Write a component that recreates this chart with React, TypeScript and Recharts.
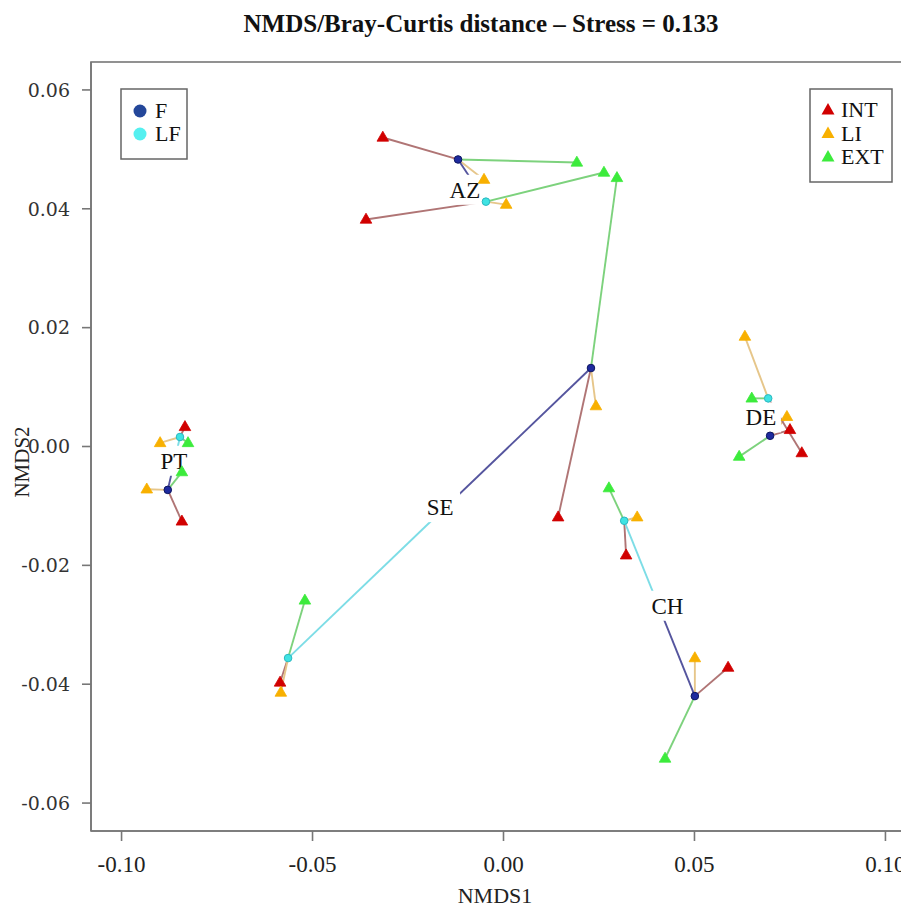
import React from 'react';
import { ScatterChart, Scatter, XAxis, YAxis } from 'recharts';

// ---- data ----
const sites = ['PT', 'AZ', 'SE', 'CH', 'DE'];

// centroids
const fX = [-0.0879, -0.0119, 0.0229, 0.0501, 0.0698];
const fY = [-0.0073, 0.0483, 0.0132, -0.042, 0.0018];
const lfX = [-0.0847, -0.0046, -0.0564, 0.0316, 0.0693];
const lfY = [0.0016, 0.0412, -0.0356, -0.0125, 0.0081];

// samples attached to F centroid
const intFX = [-0.0842, -0.0316, 0.0143, 0.0588, 0.075];
const intFY = [-0.0126, 0.052, -0.0119, -0.0372, 0.0028];
const liFX = [-0.0934, -0.0051, 0.0242, 0.0501, 0.0742];
const liFY = [-0.0072, 0.0449, 0.0068, -0.0356, 0.005];
const extFX = [-0.0842, 0.0192, 0.0297, 0.0423, 0.0617];
const extFY = [-0.0043, 0.0478, 0.0452, -0.0525, -0.0017];

// samples attached to LF centroid
const intLFX = [-0.0834, -0.036, -0.0585, 0.0321, 0.0781];
const intLFY = [0.0033, 0.0382, -0.0397, -0.0183, -0.0011];
const liLFX = [-0.0899, 0.0007, -0.0583, 0.035, 0.0632];
const liLFY = [0.0006, 0.0407, -0.0414, -0.0119, 0.0185];
const extLFX = [-0.0826, 0.0263, -0.052, 0.0276, 0.065];
const extLFY = [0.0006, 0.0461, -0.0259, -0.007, 0.0081];

// site label positions
const labelX = [-0.0863, -0.0101, -0.0166, 0.0429, 0.0674];
const labelY = [-0.0024, 0.0432, -0.0102, -0.0268, 0.0049];

const xTicks = [-0.1, -0.05, 0, 0.05, 0.1];
const yTicks = [-0.06, -0.04, -0.02, 0, 0.02, 0.04, 0.06];

const groupNames = ['F', 'LF'];
const typeNames = ['INT', 'LI', 'EXT'];

// ---- styles ----
const C_INT = '#D10000';
const C_LI = '#F8B000';
const C_EXT = '#3CEB3C';
const C_F = '#1E2A9E';
const C_LF = '#3FE3E3';
const L_INT = '#B07575';
const L_LI = '#E6C68A';
const L_EXT = '#7DD27D';
const L_F = '#55559E';
const L_LF = '#7DDDE6';

const NoShape = () => <g />;

const triangle = (color: string) => (props: any) => {
  const { cx, cy } = props;
  if (cx == null || cy == null) return <g />;
  const pts = `${cx},${cy - 6.3} ${cx - 5.8},${cy + 3.7} ${cx + 5.8},${cy + 3.7}`;
  return <polygon points={pts} fill={color} stroke={color} strokeWidth={0.8} />;
};

const centroid = (color: string, edge: string) => (props: any) => {
  const { cx, cy } = props;
  if (cx == null || cy == null) return <g />;
  return <circle cx={cx} cy={cy} r={3.8} fill={color} stroke={edge} strokeWidth={1} />;
};

const siteLabel = (props: any) => {
  const { cx, cy, payload } = props;
  if (cx == null || cy == null) return <g />;
  const w = 40;
  const h = 30;
  return (
    <g>
      <rect x={cx - w / 2} y={cy - h / 2} width={w} height={h} fill="#ffffff" />
      <text
        x={cx}
        y={cy + 8}
        textAnchor="middle"
        fontFamily="'Liberation Serif', 'Times New Roman', serif"
        fontSize={23}
        fill="#111"
      >
        {payload.name}
      </text>
    </g>
  );
};

type P = { x: number; y: number };

const segments: { a: P; b: P; color: string }[] = [];
sites.forEach((_, i) => {
  const F = { x: fX[i], y: fY[i] };
  const LF = { x: lfX[i], y: lfY[i] };
  segments.push({ a: F, b: { x: intFX[i], y: intFY[i] }, color: L_INT });
  segments.push({ a: F, b: { x: liFX[i], y: liFY[i] }, color: L_LI });
  segments.push({ a: F, b: { x: extFX[i], y: extFY[i] }, color: L_EXT });
  segments.push({ a: LF, b: { x: intLFX[i], y: intLFY[i] }, color: L_INT });
  segments.push({ a: LF, b: { x: liLFX[i], y: liLFY[i] }, color: L_LI });
  segments.push({ a: LF, b: { x: extLFX[i], y: extLFY[i] }, color: L_EXT });
  const mid = { x: (F.x + LF.x) / 2, y: (F.y + LF.y) / 2 };
  segments.push({ a: F, b: mid, color: L_F });
  segments.push({ a: mid, b: LF, color: L_LF });
});

const zipPts = (xs: number[], ys: number[]) => xs.map((x, i) => ({ x, y: ys[i] }));

const intPts = [...zipPts(intFX, intFY), ...zipPts(intLFX, intLFY)];
const liPts = [...zipPts(liFX, liFY), ...zipPts(liLFX, liLFY)];
const extPts = [...zipPts(extFX, extFY), ...zipPts(extLFX, extLFY)];
const fPts = zipPts(fX, fY);
const lfPts = zipPts(lfX, lfY);
const labelPts = sites.map((name, i) => ({ x: labelX[i], y: labelY[i], name }));

const serif = "'Liberation Serif', 'Times New Roman', serif";

export default function App() {
  return (
    <div
      style={{
        position: 'relative',
        width: 909,
        height: 911,
        margin: -8,
        overflow: 'hidden',
        background: '#ffffff',
      }}
    >
      <ScatterChart width={930} height={911} margin={{ top: 62, right: 14, bottom: 0, left: 21 }}>
        <XAxis
          type="number"
          dataKey="x"
          domain={[-0.108, 0.108]}
          ticks={xTicks}
          allowDataOverflow
          tickFormatter={(v: number) => v.toFixed(2)}
          height={80}
          tickSize={10}
          tickMargin={15}
          axisLine={{ stroke: '#777', strokeWidth: 1.6 }}
          tickLine={{ stroke: '#777', strokeWidth: 1.6 }}
          tick={{ fontFamily: serif, fontSize: 23, fill: '#222' }}
        />
        <YAxis
          type="number"
          dataKey="y"
          domain={[-0.0647, 0.0647]}
          ticks={yTicks}
          allowDataOverflow
          tickFormatter={(v: number) => v.toFixed(2)}
          width={70}
          tickSize={9}
          tickMargin={12}
          axisLine={{ stroke: '#777', strokeWidth: 1.6 }}
          tickLine={{ stroke: '#777', strokeWidth: 1.6 }}
          tick={{ fontFamily: "'DejaVu Serif', serif", fontSize: 19, fill: '#333' }}
        />
        {segments.map((s, k) => (
          <Scatter
            key={'seg' + k}
            data={[s.a, s.b]}
            line={{ stroke: s.color, strokeWidth: 1.9 }}
            shape={NoShape}
            isAnimationActive={false}
          />
        ))}
        <Scatter data={labelPts} shape={siteLabel} isAnimationActive={false} />
        <Scatter name="INT" data={intPts} shape={triangle(C_INT)} isAnimationActive={false} />
        <Scatter name="LI" data={liPts} shape={triangle(C_LI)} isAnimationActive={false} />
        <Scatter name="EXT" data={extPts} shape={triangle(C_EXT)} isAnimationActive={false} />
        <Scatter name="F" data={fPts} shape={centroid(C_F, '#0d1660')} isAnimationActive={false} />
        <Scatter name="LF" data={lfPts} shape={centroid(C_LF, '#2bb8c0')} isAnimationActive={false} />
      </ScatterChart>
      <svg
        width={909}
        height={911}
        style={{ position: 'absolute', left: 0, top: 0, pointerEvents: 'none' }}
      >
        <rect x={91} y={62} width={825} height={769} fill="none" stroke="#777" strokeWidth={1.6} />
        <text x={481} y={32} textAnchor="middle" fontFamily={serif} fontWeight="bold" fontSize={25} fill="#111">
          NMDS/Bray-Curtis distance – Stress = 0.133
        </text>
        <text x={495} y={903} textAnchor="middle" fontFamily={serif} fontSize={22} fill="#222">
          NMDS1
        </text>
        <text
          x={29}
          y={462}
          textAnchor="middle"
          fontFamily={serif}
          fontSize={21}
          fill="#222"
          transform="rotate(-90 29 462)"
        >
          NMDS2
        </text>
        {/* left legend */}
        <rect x={121} y={89} width={66} height={70} fill="#fff" stroke="#666" strokeWidth={1.5} />
        <circle cx={140} cy={111} r={6.5} fill="#24479A" />
        <text x={155} y={118} fontFamily={serif} fontSize={22} fill="#111">{groupNames[0]}</text>
        <circle cx={140} cy={134} r={6.5} fill="#55F0F0" />
        <text x={155} y={141} fontFamily={serif} fontSize={22} fill="#111">{groupNames[1]}</text>
        {/* right legend */}
        <rect x={810} y={89} width={82} height={93} fill="#fff" stroke="#666" strokeWidth={1.5} />
        {[C_INT, C_LI, C_EXT].map((c, i) => {
          const cy = 110 + i * 23.5;
          return (
            <g key={typeNames[i]}>
              <polygon points={`${828},${cy - 7} ${821.5},${cy + 4.5} ${834.5},${cy + 4.5}`} fill={c} />
              <text x={841} y={cy + 7} fontFamily={serif} fontSize={22} fill="#111">
                {typeNames[i]}
              </text>
            </g>
          );
        })}
      </svg>
    </div>
  );
}
